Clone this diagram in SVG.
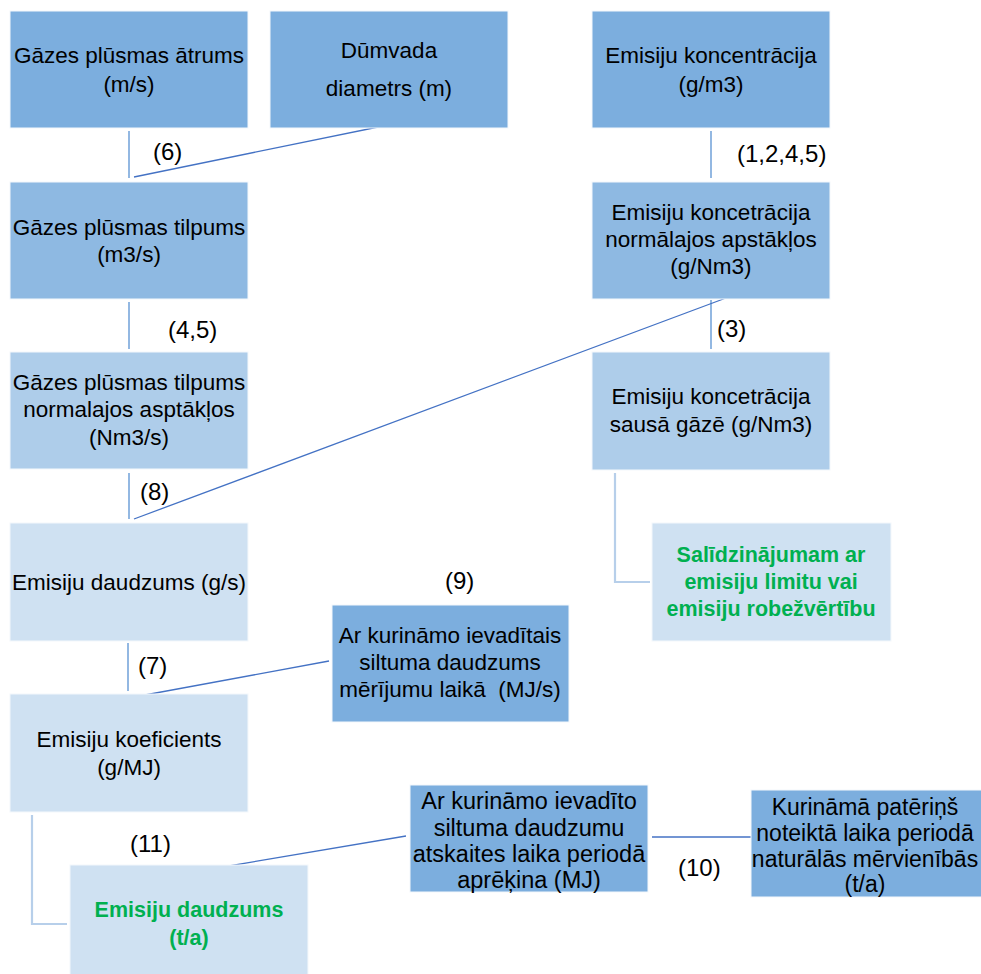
<svg xmlns="http://www.w3.org/2000/svg" width="981" height="974" viewBox="0 0 981 974">
<style>
  .dark{fill:#7CAEDE;stroke:#F4F8FC;stroke-width:1}
  .mid{fill:#8EB9E2;stroke:#F4F8FC;stroke-width:1}
  .light{fill:#AECDEA;stroke:#F4F8FC;stroke-width:1}
  .pale{fill:#CFE1F2;stroke:#F4F8FC;stroke-width:1}
  text{font-family:"Liberation Sans",Arial,sans-serif;font-size:22.5px;fill:#000;text-anchor:middle}
  .big{font-size:23.5px}
  .k{font-size:23px}
  .green{fill:#00B050;font-weight:bold;font-size:21.5px}
  .lbl{font-size:24px;text-anchor:start}
  .vc{stroke:#93B8E2;stroke-width:2;fill:none}
  .lc{stroke:#B7CFEA;stroke-width:2.2;fill:none}
  .dc{stroke:#4472C4;stroke-width:1.3;fill:none}
</style>
<rect width="981" height="974" fill="#fff"/>
<g id="connectors">
  <line class="vc" x1="129" y1="131" x2="129" y2="178"/>
  <line class="dc" x1="134" y1="177" x2="388" y2="125"/>
  <line class="vc" x1="711" y1="131" x2="711" y2="178"/>
  <line class="vc" x1="129" y1="302" x2="129" y2="349"/>
  <line class="vc" x1="711" y1="300" x2="711" y2="349"/>
  <line class="vc" x1="129" y1="473" x2="129" y2="519"/>
  <line class="dc" x1="134" y1="519" x2="726" y2="298"/>
  <polyline class="lc" points="615,473 615,582 650,582"/>
  <line class="vc" x1="128" y1="643" x2="128" y2="691"/>
  <line class="dc" x1="134" y1="697" x2="329" y2="661"/>
  <polyline class="lc" points="32,815 32,924 67,924"/>
  <line class="dc" x1="193" y1="872" x2="406" y2="836"/>
  <line class="dc" x1="652" y1="837" x2="751" y2="837"/>
  <text class="lbl" x="153" y="160">(6)</text>
  <text class="lbl" x="737" y="162">(1,2,4,5)</text>
  <text class="lbl" x="168" y="338">(4,5)</text>
  <text class="lbl" x="717" y="337">(3)</text>
  <text class="lbl" x="140" y="500">(8)</text>
  <text class="lbl" x="445" y="589">(9)</text>
  <text class="lbl" x="138" y="674">(7)</text>
  <text class="lbl" x="130" y="852">(11)</text>
  <text class="lbl" x="678" y="876">(10)</text>
</g>
<g id="n1">
  <rect class="dark" x="10" y="11" width="238" height="117"/>
  <text x="129" y="63">Gāzes plūsmas ātrums</text>
  <text x="129" y="92">(m/s)</text>
</g>
<g id="n2">
  <rect class="dark" x="270" y="11" width="238" height="117"/>
  <text x="389" y="58">Dūmvada</text>
  <text x="389" y="96">diametrs (m)</text>
</g>
<g id="n3">
  <rect class="dark" x="592" y="11" width="238" height="117"/>
  <text x="711" y="63">Emisiju koncentrācija</text>
  <text x="711" y="92">(g/m3)</text>
</g>
<g id="n4">
  <rect class="mid" x="10" y="182" width="238" height="117"/>
  <text x="129" y="235">Gāzes plūsmas tilpums</text>
  <text x="129" y="262">(m3/s)</text>
</g>
<g id="n5">
  <rect class="mid" x="592" y="182" width="238" height="117"/>
  <text x="711" y="220">Emisiju koncetrācija</text>
  <text x="711" y="247">normālajos apstākļos</text>
  <text x="711" y="274">(g/Nm3)</text>
</g>
<g id="n6">
  <rect class="light" x="10" y="352" width="238" height="117"/>
  <text x="129" y="390">Gāzes plūsmas tilpums</text>
  <text x="129" y="417">normalajos asptākļos</text>
  <text x="129" y="445">(Nm3/s)</text>
</g>
<g id="n7">
  <rect class="light" x="592" y="352" width="238" height="118"/>
  <text x="711" y="404">Emisiju koncetrācija</text>
  <text x="711" y="432">sausā gāzē (g/Nm3)</text>
</g>
<g id="n8">
  <rect class="pale" x="10" y="523" width="238" height="118"/>
  <text x="129" y="590">Emisiju daudzums (g/s)</text>
</g>
<g id="n9">
  <rect class="pale" x="652" y="523" width="239" height="118"/>
  <text class="green" x="771" y="562">Salīdzinājumam ar</text>
  <text class="green" x="771" y="589">emisiju limitu vai</text>
  <text class="green" x="771" y="616">emisiju robežvērtību</text>
</g>
<g id="n10">
  <rect class="dark" x="332" y="605" width="237" height="117"/>
  <text x="450" y="643">Ar kurināmo ievadītais</text>
  <text x="450" y="670">siltuma daudzums</text>
  <text x="450" y="697" xml:space="preserve">mērījumu laikā  (MJ/s)</text>
</g>
<g id="n11">
  <rect class="pale" x="10" y="694" width="238" height="118"/>
  <text x="129" y="747">Emisiju koeficients</text>
  <text x="129" y="775">(g/MJ)</text>
</g>
<g id="n12">
  <rect class="dark" x="410" y="785" width="238" height="107"/>
  <text class="big" x="529" y="809">Ar kurināmo ievadīto</text>
  <text class="big" x="529" y="836">siltuma daudzumu</text>
  <text class="big" x="529" y="862">atskaites laika periodā</text>
  <text class="big" x="529" y="888">aprēķina (MJ)</text>
</g>
<g id="n13">
  <rect class="dark" x="751" y="790" width="240" height="107"/>
  <text class="k" x="865" y="815">Kurināmā patēriņš</text>
  <text class="k" x="865" y="841">noteiktā laika periodā</text>
  <text class="k" x="865" y="867">naturālās mērvienībās</text>
  <text class="k" x="865" y="892">(t/a)</text>
</g>
<g id="n14">
  <rect class="pale" x="70" y="865" width="238" height="115"/>
  <text class="green" x="189" y="917">Emisiju daudzums</text>
  <text class="green" x="189" y="945">(t/a)</text>
</g>
</svg>
